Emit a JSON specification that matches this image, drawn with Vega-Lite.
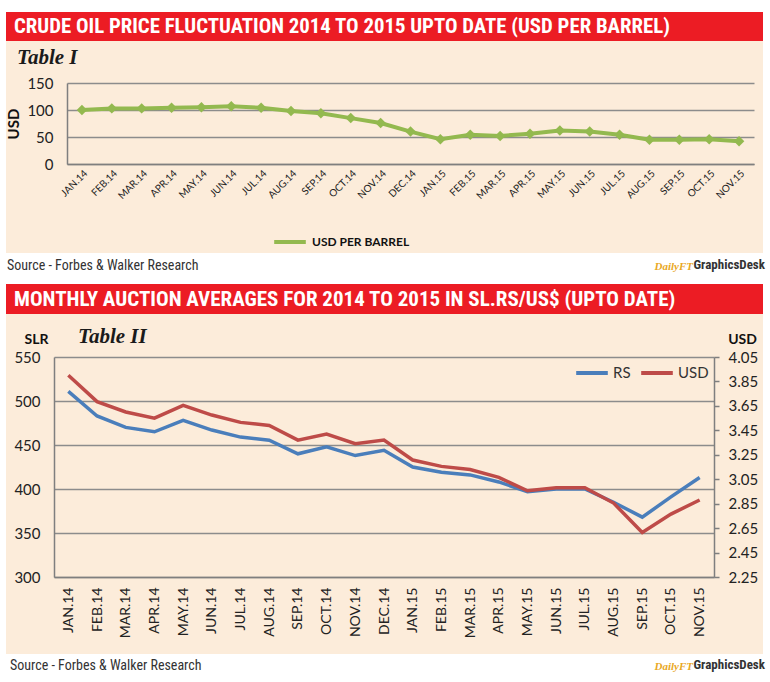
{
  "$schema": "https://vega.github.io/schema/vega-lite/v6.json",
  "background": "white",
  "padding": {"left": 6, "top": 12, "right": 7, "bottom": 0},
  "config": {"concat": {"spacing": 0}, "view": {"stroke": null}, "font": "Lato",
    "axis": {"labelFont": "Lato", "titleFont": "Lato", "labelColor": "#222222", "titleColor": "#111111"}},
  "resolve": {"scale": {"color": "independent"}, "legend": {"color": "independent"}},
  "datasets": {
    "oil": [
      {"month": "JAN.14", "usd": 100}, {"month": "FEB.14", "usd": 103}, {"month": "MAR.14", "usd": 103},
      {"month": "APR.14", "usd": 104}, {"month": "MAY.14", "usd": 105}, {"month": "JUN.14", "usd": 107},
      {"month": "JUL.14", "usd": 104}, {"month": "AUG.14", "usd": 98}, {"month": "SEP.14", "usd": 94},
      {"month": "OCT.14", "usd": 85}, {"month": "NOV.14", "usd": 76}, {"month": "DEC.14", "usd": 60},
      {"month": "JAN.15", "usd": 46}, {"month": "FEB.15", "usd": 54}, {"month": "MAR.15", "usd": 52},
      {"month": "APR.15", "usd": 56}, {"month": "MAY.15", "usd": 62}, {"month": "JUN.15", "usd": 60},
      {"month": "JUL.15", "usd": 54}, {"month": "AUG.15", "usd": 45}, {"month": "SEP.15", "usd": 45},
      {"month": "OCT.15", "usd": 46}, {"month": "NOV.15", "usd": 42}
    ],
    "fx": [
      {"month": "JAN.14", "rs": 511, "usd": 3.9}, {"month": "FEB.14", "rs": 483, "usd": 3.685},
      {"month": "MAR.14", "rs": 470, "usd": 3.6}, {"month": "APR.14", "rs": 465, "usd": 3.55},
      {"month": "MAY.14", "rs": 478, "usd": 3.655}, {"month": "JUN.14", "rs": 467, "usd": 3.575},
      {"month": "JUL.14", "rs": 459, "usd": 3.515}, {"month": "AUG.14", "rs": 455.5, "usd": 3.49},
      {"month": "SEP.14", "rs": 440, "usd": 3.37}, {"month": "OCT.14", "rs": 448, "usd": 3.42},
      {"month": "NOV.14", "rs": 438, "usd": 3.34}, {"month": "DEC.14", "rs": 444, "usd": 3.37},
      {"month": "JAN.15", "rs": 425, "usd": 3.207}, {"month": "FEB.15", "rs": 419, "usd": 3.155},
      {"month": "MAR.15", "rs": 416, "usd": 3.13}, {"month": "APR.15", "rs": 408, "usd": 3.065},
      {"month": "MAY.15", "rs": 397, "usd": 2.955}, {"month": "JUN.15", "rs": 400, "usd": 2.98},
      {"month": "JUL.15", "rs": 400, "usd": 2.98}, {"month": "AUG.15", "rs": 385, "usd": 2.855},
      {"month": "SEP.15", "rs": 368, "usd": 2.615}, {"month": "OCT.15", "rs": 391, "usd": 2.765},
      {"month": "NOV.15", "rs": 413, "usd": 2.88}
    ]
  },
  "vconcat": [
    {
      "width": 757, "height": 29,
      "view": {"fill": "#EC1C24", "stroke": null},
      "data": {"values": []},
      "mark": "rect",
      "title": {"text": "CRUDE OIL PRICE FLUCTUATION 2014 TO 2015 UPTO DATE (USD PER BARREL)",
        "anchor": "start", "frame": "group", "orient": "top", "offset": -26, "dx": 8,
        "color": "white", "font": "Roboto Condensed", "fontWeight": "bold", "fontSize": 20.8}
    },
    {
      "width": 757, "height": 212,
      "view": {"fill": "#FCECDA", "stroke": null},
      "title": {"text": "Table I", "anchor": "start", "frame": "group", "orient": "top", "offset": -27, "dx": 11,
        "font": "Liberation Serif", "fontStyle": "italic", "fontWeight": "bold", "fontSize": 21, "color": "#1a1a1a"},
      "data": {"name": "oil"},
      "encoding": {
        "x": {"field": "month", "type": "ordinal", "sort": null,
          "scale": {"type": "point", "range": [61, 748], "padding": 0.5},
          "axis": {"title": null, "offset": -89, "labelAngle": -45, "labelFontSize": 10, "ticks": false,
            "labelPadding": 4, "domainColor": "#7f7f7f", "domainWidth": 1.5}},
        "y": {"field": "usd", "type": "quantitative",
          "scale": {"domain": [0, 150], "range": [123, 42], "nice": false},
          "axis": {"title": "USD", "values": [0, 50, 100, 150], "offset": -61, "grid": true,
            "gridColor": "#8c8c8c", "gridWidth": 1.5, "ticks": false, "domainColor": "#7f7f7f", "domainWidth": 1.5,
            "labelFontSize": 15, "labelPadding": 14, "titleFontSize": 15, "titleFontWeight": "bold", "titlePadding": 5}},
        "color": {"datum": "USD PER BARREL", "type": "nominal",
          "scale": {"domain": ["USD PER BARREL"], "range": ["#93B94F"]},
          "legend": {"orient": "none", "legendX": 266, "legendY": 183, "direction": "horizontal", "title": null,
            "symbolType": "stroke", "symbolStrokeWidth": 4, "symbolSize": 1000, "labelFontSize": 12, "padding": 0,
            "labelFontWeight": "bold", "labelColor": "#111111"}}
      },
      "layer": [
        {"mark": {"type": "line", "strokeWidth": 4}},
        {"mark": {"type": "point", "shape": "diamond", "filled": true, "size": 110, "opacity": 1}}
      ]
    },
    {
      "hconcat": [
        {"width": 400, "height": 31, "data": {"values": []}, "mark": "rect",
          "title": {"text": "Source - Forbes & Walker Research", "anchor": "start", "frame": "group", "orient": "top",
            "offset": -20, "dx": 1, "font": "Roboto Condensed", "fontSize": 14, "fontWeight": "normal", "color": "#333333"}},
        {"width": 287, "height": 31, "data": {"values": []}, "mark": "rect",
          "title": {"text": "DailyFT", "anchor": "end", "frame": "group", "orient": "top",
            "offset": -19, "font": "Liberation Serif", "fontStyle": "italic", "fontSize": 11, "fontWeight": "bold", "color": "#E9A81E"}},
        {"width": 70, "height": 31, "data": {"values": []}, "mark": "rect",
          "title": {"text": "GraphicsDesk", "anchor": "end", "frame": "group", "orient": "top",
            "offset": -19, "font": "Roboto Condensed", "fontSize": 13, "fontWeight": "bold", "color": "#333333"}}
      ]
    },
    {
      "width": 757, "height": 30,
      "view": {"fill": "#EC1C24", "stroke": null},
      "data": {"values": []},
      "mark": "rect",
      "title": {"text": "MONTHLY AUCTION AVERAGES FOR 2014 TO 2015 IN SL.RS/US$ (UPTO DATE)",
        "anchor": "start", "frame": "group", "orient": "top", "offset": -26, "dx": 8,
        "color": "white", "font": "Roboto Condensed", "fontWeight": "bold", "fontSize": 21}
    },
    {
      "width": 757, "height": 340,
      "view": {"fill": "#FCECDA", "stroke": null},
      "title": {"text": "Table II", "anchor": "start", "frame": "group", "orient": "top", "offset": -33, "dx": 72,
        "font": "Liberation Serif", "fontStyle": "italic", "fontWeight": "bold", "fontSize": 21, "color": "#1a1a1a"},
      "data": {"name": "fx"},
      "encoding": {
        "x": {"field": "month", "type": "ordinal", "sort": null,
          "scale": {"type": "point", "range": [48, 708], "padding": 0.5},
          "axis": {"title": null, "offset": -77, "labelAngle": -90, "labelFontSize": 14, "ticks": false,
            "labelPadding": 10, "domainColor": "#7f7f7f", "domainWidth": 1.5}}
      },
      "layer": [
        {"mark": {"type": "line", "strokeWidth": 3.5},
          "encoding": {
            "y": {"field": "rs", "type": "quantitative",
              "scale": {"domain": [300, 550], "range": [263, 43], "nice": false, "zero": false},
              "axis": {"title": "SLR", "titleAngle": 0, "titleX": -18, "titleY": 25, "titleAlign": "center", "titleBaseline": "middle",
                "values": [300, 350, 400, 450, 500, 550], "offset": -48, "grid": true,
                "gridColor": "#8c8c8c", "gridWidth": 1.5, "ticks": false, "domainColor": "#7f7f7f", "domainWidth": 1.5,
                "labelFontSize": 15, "labelPadding": 14, "titleFontSize": 14, "titleFontWeight": "bold"}},
            "color": {"datum": "RS", "type": "nominal",
              "scale": {"domain": ["RS", "USD"], "range": ["#4A7EBB", "#BE4B48"]},
              "legend": {"orient": "none", "legendX": 568, "legendY": 41, "direction": "horizontal", "title": null,
                "symbolType": "stroke", "symbolStrokeWidth": 4, "symbolSize": 1000, "labelFontSize": 15, "padding": 0,
                "labelOffset": 3, "labelColor": "#333333", "columnPadding": 2}}
          }},
        {"mark": {"type": "line", "strokeWidth": 3.5},
          "encoding": {
            "y": {"field": "usd", "type": "quantitative",
              "scale": {"domain": [2.25, 4.05], "range": [263, 43], "nice": false, "zero": false},
              "axis": {"orient": "right", "title": "USD", "titleAngle": 0, "titleX": 28, "titleY": 25, "titleAlign": "center", "titleBaseline": "middle",
                "values": [2.25, 2.45, 2.65, 2.85, 3.05, 3.25, 3.45, 3.65, 3.85, 4.05], "format": ".2f",
                "offset": -49, "grid": false, "ticks": true, "tickSize": 5, "tickColor": "#7f7f7f", "tickWidth": 1.5,
                "domainColor": "#7f7f7f", "domainWidth": 1.5,
                "labelFontSize": 15, "labelPadding": 9, "titleFontSize": 14, "titleFontWeight": "bold"}},
            "color": {"datum": "USD", "type": "nominal"}
          }}
      ],
      "resolve": {"scale": {"y": "independent"}}
    },
    {
      "hconcat": [
        {"width": 400, "height": 27, "data": {"values": []}, "mark": "rect",
          "title": {"text": "Source - Forbes & Walker Research", "anchor": "start", "frame": "group", "orient": "top",
            "offset": -19, "dx": 4, "font": "Roboto Condensed", "fontSize": 14, "fontWeight": "normal", "color": "#333333"}},
        {"width": 287, "height": 27, "data": {"values": []}, "mark": "rect",
          "title": {"text": "DailyFT", "anchor": "end", "frame": "group", "orient": "top",
            "offset": -18, "font": "Liberation Serif", "fontStyle": "italic", "fontSize": 11, "fontWeight": "bold", "color": "#E9A81E"}},
        {"width": 70, "height": 27, "data": {"values": []}, "mark": "rect",
          "title": {"text": "GraphicsDesk", "anchor": "end", "frame": "group", "orient": "top",
            "offset": -18, "font": "Roboto Condensed", "fontSize": 13, "fontWeight": "bold", "color": "#333333"}}
      ]
    }
  ]
}
